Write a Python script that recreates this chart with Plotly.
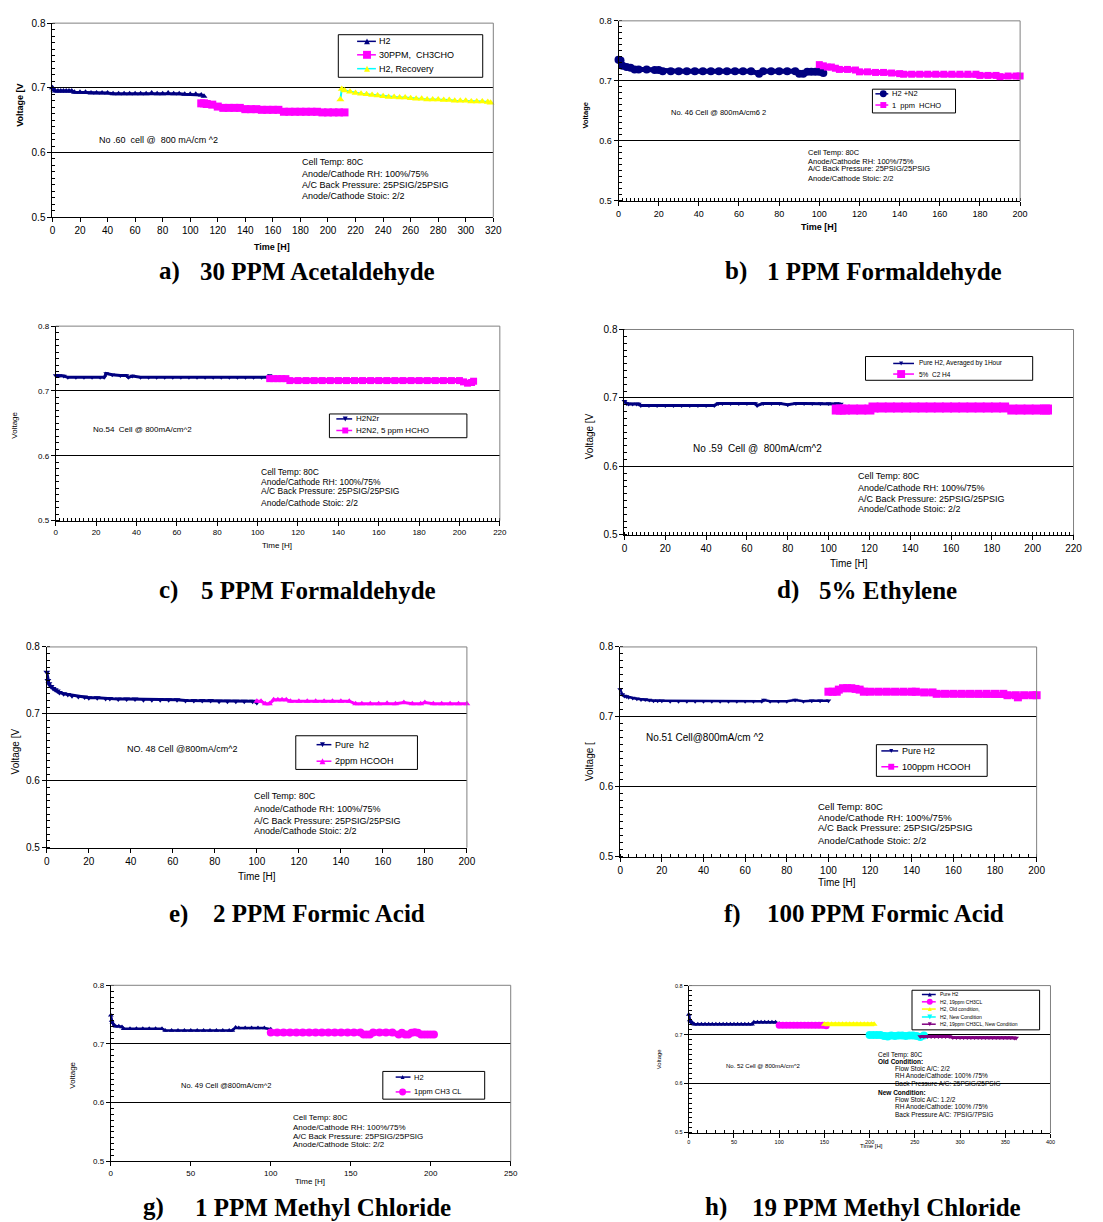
import plotly.graph_objects as go

W, H = 1103, 1222
SANS = "Liberation Sans, Arial, sans-serif"
SERIF = "Liberation Serif, Times New Roman, serif"
NAVY, MAG, YEL, CYN, PUR = "#000080", "#FF00FF", "#FFFF00", "#00FFFF", "#800080"

# ---------------- data (time [h], voltage [V]) ----------------
# a) 30 PPM Acetaldehyde
a_h2_t = [0, 1, 2, 4, 6, 8, 10, 12, 14, 16, 20, 24, 28, 32, 36, 40, 44, 48, 52, 56, 60, 64, 68, 72, 76, 80, 84, 88, 92, 96, 100, 104, 108, 110]
a_h2_v = [0.700, 0.697, 0.695, 0.695, 0.695, 0.695, 0.695, 0.695, 0.695, 0.693, 0.693, 0.693, 0.692, 0.692, 0.692, 0.692, 0.691, 0.691, 0.691, 0.691, 0.691, 0.691, 0.691, 0.692, 0.691, 0.691, 0.692, 0.691, 0.691, 0.690, 0.690, 0.690, 0.689, 0.687]
a_ald_t = [108, 110, 112, 116, 120, 124, 128, 132, 136, 140, 144, 148, 152, 156, 160, 164, 168, 172, 176, 180, 184, 188, 192, 196, 200, 204, 208, 212]
a_ald_v = [0.676, 0.676, 0.675, 0.674, 0.671, 0.669, 0.669, 0.669, 0.669, 0.667, 0.667, 0.667, 0.666, 0.666, 0.666, 0.666, 0.663, 0.663, 0.663, 0.663, 0.663, 0.663, 0.663, 0.662, 0.662, 0.662, 0.662, 0.662]
a_rec_t = [209, 210, 212, 216, 220, 224, 228, 232, 236, 240, 244, 248, 252, 256, 260, 264, 268, 272, 276, 280, 284, 288, 292, 296, 300, 304, 308, 312, 316, 318]
a_rec_v = [0.682, 0.698, 0.696, 0.694, 0.692, 0.691, 0.690, 0.689, 0.688, 0.687, 0.686, 0.686, 0.685, 0.685, 0.684, 0.683, 0.683, 0.682, 0.682, 0.682, 0.681, 0.681, 0.680, 0.680, 0.680, 0.679, 0.679, 0.679, 0.678, 0.677]

# b) 1 PPM Formaldehyde
b_h2_t = [0, 1, 2, 4, 6, 8, 10, 14, 18, 20, 22, 26, 30, 34, 38, 42, 46, 50, 54, 58, 62, 66, 70, 72, 76, 80, 84, 88, 90, 92, 94, 96, 98, 100, 102]
b_h2_v = [0.735, 0.734, 0.725, 0.723, 0.722, 0.719, 0.719, 0.719, 0.718, 0.718, 0.716, 0.716, 0.716, 0.716, 0.716, 0.716, 0.716, 0.716, 0.716, 0.716, 0.716, 0.716, 0.712, 0.716, 0.716, 0.716, 0.716, 0.716, 0.712, 0.712, 0.715, 0.715, 0.715, 0.715, 0.713]
b_hcho_t = [100, 102, 104, 106, 108, 110, 114, 118, 120, 124, 128, 132, 136, 140, 142, 146, 150, 154, 158, 162, 166, 170, 174, 178, 180, 184, 188, 190, 194, 198, 200]
b_hcho_v = [0.727, 0.725, 0.723, 0.723, 0.721, 0.719, 0.719, 0.718, 0.715, 0.715, 0.714, 0.714, 0.713, 0.712, 0.711, 0.711, 0.711, 0.711, 0.711, 0.711, 0.711, 0.711, 0.711, 0.711, 0.709, 0.709, 0.709, 0.707, 0.708, 0.708, 0.708]

# c) 5 PPM Formaldehyde
c_h2_t = [0, 2, 4, 6, 10, 14, 18, 22, 24, 25, 28, 32, 35, 36, 38, 42, 46, 50, 54, 58, 62, 66, 70, 74, 78, 82, 86, 90, 94, 98, 102, 105, 106]
c_h2_v = [0.724, 0.724, 0.723, 0.721, 0.721, 0.721, 0.721, 0.721, 0.721, 0.727, 0.725, 0.724, 0.724, 0.721, 0.723, 0.721, 0.721, 0.721, 0.721, 0.721, 0.721, 0.721, 0.721, 0.721, 0.721, 0.721, 0.721, 0.721, 0.721, 0.721, 0.721, 0.721, 0.724]
c_hcho_t = [106, 108, 110, 112, 114, 116, 120, 124, 128, 132, 136, 140, 144, 148, 152, 156, 160, 164, 168, 172, 176, 180, 184, 188, 192, 196, 200, 202, 204, 206, 207]
c_hcho_v = [0.719, 0.719, 0.719, 0.719, 0.719, 0.716, 0.716, 0.716, 0.716, 0.716, 0.716, 0.716, 0.716, 0.716, 0.716, 0.716, 0.716, 0.716, 0.716, 0.716, 0.716, 0.716, 0.716, 0.716, 0.716, 0.716, 0.716, 0.714, 0.712, 0.713, 0.715]

# d) 5% Ethylene
d_h2_t = [0, 1, 2, 4, 6, 7, 8, 12, 16, 20, 24, 28, 32, 36, 40, 44, 46, 48, 52, 56, 60, 64, 65, 68, 72, 76, 80, 84, 88, 92, 96, 100, 104, 106]
d_h2_v = [0.695, 0.692, 0.691, 0.691, 0.691, 0.691, 0.689, 0.689, 0.689, 0.689, 0.689, 0.689, 0.689, 0.689, 0.689, 0.689, 0.692, 0.692, 0.692, 0.692, 0.692, 0.692, 0.689, 0.692, 0.692, 0.692, 0.690, 0.692, 0.692, 0.692, 0.692, 0.692, 0.692, 0.691]
d_c2h4_t = [104, 106, 108, 112, 116, 120, 122, 126, 130, 134, 138, 142, 146, 150, 154, 158, 162, 166, 170, 174, 178, 182, 186, 190, 194, 198, 202, 206, 207]
d_c2h4_v = [0.683, 0.683, 0.683, 0.683, 0.683, 0.683, 0.686, 0.686, 0.686, 0.686, 0.686, 0.686, 0.686, 0.686, 0.686, 0.686, 0.686, 0.686, 0.686, 0.686, 0.686, 0.686, 0.686, 0.683, 0.683, 0.683, 0.683, 0.683, 0.683]

# e) 2 PPM Formic Acid
e_h2_t = [0, 0.5, 1, 2, 3, 4, 5, 6, 8, 10, 12, 15, 18, 20, 24, 28, 30, 34, 38, 42, 46, 50, 54, 58, 62, 66, 70, 74, 78, 82, 86, 90, 94, 98, 100]
e_h2_v = [0.762, 0.750, 0.745, 0.741, 0.738, 0.736, 0.734, 0.732, 0.730, 0.729, 0.727, 0.726, 0.725, 0.724, 0.724, 0.723, 0.723, 0.722, 0.722, 0.722, 0.721, 0.721, 0.721, 0.721, 0.721, 0.720, 0.720, 0.720, 0.720, 0.719, 0.719, 0.719, 0.719, 0.719, 0.717]
e_fa_t = [100, 102, 104, 106, 108, 110, 112, 114, 116, 120, 124, 128, 132, 136, 140, 144, 147, 150, 154, 158, 162, 166, 170, 174, 178, 180, 184, 188, 192, 196, 200]
e_fa_v = [0.719, 0.719, 0.715, 0.715, 0.721, 0.721, 0.721, 0.721, 0.719, 0.719, 0.719, 0.719, 0.719, 0.719, 0.719, 0.719, 0.715, 0.715, 0.715, 0.715, 0.716, 0.715, 0.717, 0.715, 0.715, 0.717, 0.715, 0.715, 0.715, 0.715, 0.715]

# f) 100 PPM Formic Acid
f_h2_t = [0, 1, 2, 3, 4, 6, 8, 10, 12, 14, 16, 18, 20, 24, 28, 32, 36, 40, 44, 48, 52, 56, 60, 64, 68, 69, 72, 76, 80, 84, 88, 92, 96, 100]
f_h2_v = [0.739, 0.732, 0.730, 0.729, 0.728, 0.727, 0.726, 0.725, 0.725, 0.724, 0.723, 0.723, 0.723, 0.7225, 0.7225, 0.7225, 0.7225, 0.7225, 0.7225, 0.7225, 0.7225, 0.7225, 0.7225, 0.7225, 0.7225, 0.724, 0.7225, 0.7225, 0.7225, 0.724, 0.7225, 0.723, 0.723, 0.723]
f_fa_t = [100, 102, 104, 105, 107, 109, 111, 113, 115, 117, 120, 124, 128, 132, 136, 140, 142, 146, 150, 152, 156, 160, 164, 168, 172, 176, 180, 184, 186, 190, 191, 194, 198, 200]
f_fa_v = [0.736, 0.736, 0.736, 0.739, 0.741, 0.741, 0.741, 0.740, 0.739, 0.736, 0.736, 0.736, 0.736, 0.736, 0.736, 0.736, 0.736, 0.735, 0.735, 0.733, 0.733, 0.733, 0.733, 0.733, 0.733, 0.733, 0.733, 0.733, 0.731, 0.731, 0.728, 0.731, 0.731, 0.731]

# g) 1 PPM Methyl Chloride
g_h2_t = [0, 0.5, 1, 2, 3, 5, 7, 8, 12, 16, 20, 24, 28, 32, 34, 38, 42, 46, 50, 54, 58, 62, 66, 70, 74, 76, 78, 80, 84, 88, 92, 96, 100]
g_h2_v = [0.749, 0.740, 0.736, 0.731, 0.730, 0.730, 0.729, 0.726, 0.726, 0.726, 0.726, 0.726, 0.726, 0.726, 0.723, 0.723, 0.723, 0.723, 0.723, 0.723, 0.723, 0.723, 0.723, 0.723, 0.723, 0.723, 0.728, 0.727, 0.727, 0.727, 0.727, 0.727, 0.725]
g_mc_t = [100, 104, 108, 112, 116, 120, 124, 128, 132, 136, 140, 144, 148, 152, 156, 158, 160, 162, 164, 168, 172, 176, 180, 182, 184, 186, 188, 190, 192, 194, 196, 198, 200, 202]
g_mc_v = [0.7195, 0.7195, 0.7195, 0.7195, 0.7195, 0.7195, 0.7195, 0.7195, 0.7195, 0.7195, 0.7195, 0.7195, 0.7195, 0.7195, 0.7195, 0.716, 0.716, 0.716, 0.7195, 0.7195, 0.7195, 0.7195, 0.716, 0.719, 0.716, 0.716, 0.719, 0.720, 0.719, 0.716, 0.716, 0.716, 0.716, 0.716]

# h) 19 PPM Methyl Chloride
h_h2_t = [0, 1, 2, 4, 6, 10, 14, 18, 22, 26, 30, 34, 38, 42, 46, 50, 54, 58, 62, 66, 70, 72, 76, 80, 84, 88, 92, 96, 100]
h_h2_v = [0.741, 0.730, 0.726, 0.724, 0.721, 0.721, 0.721, 0.721, 0.721, 0.721, 0.721, 0.721, 0.721, 0.721, 0.721, 0.721, 0.721, 0.721, 0.721, 0.721, 0.721, 0.725, 0.725, 0.725, 0.725, 0.725, 0.725, 0.725, 0.722]
h_mc_t = [100, 104, 108, 112, 116, 120, 124, 128, 132, 136, 140, 144, 148, 152]
h_mc_v = [0.719, 0.719, 0.719, 0.719, 0.719, 0.719, 0.719, 0.719, 0.719, 0.719, 0.719, 0.719, 0.719, 0.718]
h_old_t = [150, 154, 158, 162, 166, 170, 174, 178, 182, 186, 190, 194, 198, 202, 205]
h_old_v = [0.721, 0.721, 0.721, 0.721, 0.721, 0.721, 0.721, 0.721, 0.721, 0.721, 0.721, 0.721, 0.721, 0.721, 0.721]
h_new_t = [200, 204, 208, 212, 216, 220, 224, 228, 232, 236, 240, 244, 248, 252, 256, 260]
h_new_v = [0.699, 0.699, 0.699, 0.699, 0.697, 0.696, 0.698, 0.697, 0.698, 0.698, 0.697, 0.698, 0.698, 0.697, 0.695, 0.698]
h_mcn_t = [256, 260, 264, 268, 272, 276, 280, 284, 288, 292, 296, 300, 304, 308, 312, 316, 320, 324, 328, 332, 336, 340, 344, 348, 352, 356, 360, 362]
h_mcn_v = [0.696, 0.696, 0.696, 0.696, 0.696, 0.696, 0.696, 0.696, 0.696, 0.694, 0.694, 0.694, 0.694, 0.694, 0.694, 0.694, 0.694, 0.694, 0.694, 0.694, 0.694, 0.694, 0.694, 0.694, 0.694, 0.694, 0.693, 0.693]

y_ticks = [0.5, 0.6, 0.7, 0.8]

# ---------------- helpers ----------------
def X(p):
    return p / W


def Y(p):
    return 1 - p / H


fig = go.Figure()
shapes = []
annotations = []


def ann(x, y, text, size, xanchor="left", bold=False, angle=0, family=SANS):
    annotations.append(dict(
        x=X(x), y=Y(y), xref="paper", yref="paper",
        text=f"<b>{text}</b>" if bold else text, showarrow=False,
        xanchor=xanchor, yanchor="middle", textangle=angle,
        font=dict(family=family, size=size, color="black")))


def key_marker(sym, cx, cy, s, color):
    h = s / 2
    if sym == "square":
        shapes.append(dict(type="rect", xref="paper", yref="paper", x0=X(cx - h), x1=X(cx + h),
                           y0=Y(cy + h), y1=Y(cy - h), fillcolor=color, line=dict(width=0)))
    elif sym == "circle":
        shapes.append(dict(type="circle", xref="paper", yref="paper", x0=X(cx - h), x1=X(cx + h),
                           y0=Y(cy + h), y1=Y(cy - h), fillcolor=color, line=dict(width=0)))
    else:
        if sym == "triangle-up":
            pts = [(cx, cy - h), (cx + h, cy + h), (cx - h, cy + h)]
        else:
            pts = [(cx, cy + h), (cx + h, cy - h), (cx - h, cy - h)]
        path = "M " + " L ".join(f"{X(a):.5f},{Y(b):.5f}" for a, b in pts) + " Z"
        shapes.append(dict(type="path", xref="paper", yref="paper", path=path,
                           fillcolor=color, line=dict(width=0)))


def legend_box(box, ys, line_x, mx, tx, items, fs):
    x0, y0, x1, y1 = box
    shapes.append(dict(type="rect", xref="paper", yref="paper", x0=X(x0), x1=X(x1), y0=Y(y1), y1=Y(y0),
                       fillcolor="white", line=dict(color="black", width=1)))
    for yy, (label, lc, mc, sym, ms) in zip(ys, items):
        shapes.append(dict(type="line", xref="paper", yref="paper", x0=X(line_x[0]), x1=X(line_x[1]),
                           y0=Y(yy), y1=Y(yy), line=dict(color=lc, width=1.5)))
        key_marker(sym, mx, yy, ms, mc)
        ann(tx, yy, label, fs)


# ---------------- panels ----------------
panels = [
    dict(box=(50, 17.3, 495.7, 213.3), xmax=320, xd=20, xminor=None, tf=10,
         series=[(a_h2_t, a_h2_v, NAVY, NAVY, "triangle-up", 6, 3),
                 (a_ald_t, a_ald_v, MAG, MAG, "square", 8, 6),
                 (a_rec_t, a_rec_v, CYN, YEL, "triangle-up", 7, 2)]),
    dict(box=(622.3, 15, 1028.3, 196.7), xmax=200, xd=20, xminor=2, tf=9,
         series=[(b_h2_t, b_h2_v, NAVY, NAVY, "circle", 8, 5),
                 (b_hcho_t, b_hcho_v, MAG, MAG, "square", 7, 5)]),
    dict(box=(53.3, 323.3, 502.3, 519.7), xmax=220, xd=20, xminor=2, tf=8,
         series=[(c_h2_t, c_h2_v, NAVY, NAVY, "triangle-down", 5, 3),
                 (c_hcho_t, c_hcho_v, MAG, MAG, "square", 7, 5)]),
    dict(box=(628.3, 326.7, 1082.3, 534), xmax=220, xd=20, xminor=2, tf=10,
         series=[(d_h2_t, d_h2_v, NAVY, NAVY, "triangle-down", 5, 3),
                 (d_c2h4_t, d_c2h4_v, MAG, MAG, "square", 10, 7)]),
    dict(box=(44.3, 647.3, 469, 850), xmax=200, xd=20, xminor=None, tf=10,
         series=[(e_h2_t, e_h2_v, NAVY, NAVY, "triangle-down", 6, 3),
                 (e_fa_t, e_fa_v, MAG, MAG, "triangle-up", 6, 3)]),
    dict(box=(624, 647.3, 1045, 859.3), xmax=200, xd=20, xminor=4, tf=10,
         series=[(f_h2_t, f_h2_v, NAVY, NAVY, "triangle-down", 5, 2.5),
                 (f_fa_t, f_fa_v, MAG, MAG, "square", 8, 6)]),
    dict(box=(109, 989, 513.3, 1166.7), xmax=250, xd=50, xminor=None, tf=8,
         series=[(g_h2_t, g_h2_v, NAVY, NAVY, "triangle-up", 5, 2.5),
                 (g_mc_t, g_mc_v, MAG, MAG, "circle", 8, 6)]),
    dict(box=(693.3, 989.3, 1059, 1137.7), xmax=400, xd=50, xminor=10, tf=5.5,
         series=[(h_h2_t, h_h2_v, NAVY, NAVY, "triangle-up", 5, 2.5),
                 (h_mc_t, h_mc_v, MAG, MAG, "circle", 7, 5),
                 (h_old_t, h_old_v, YEL, YEL, "triangle-up", 6, 4),
                 (h_new_t, h_new_v, CYN, CYN, "circle", 8, 6),
                 (h_mcn_t, h_mcn_v, PUR, PUR, "triangle-down", 5, 3)]),
]

layout_axes = {}
for i, p in enumerate(panels, 1):
    x0, y0, x1, y1 = p["box"]
    xa = "xaxis" if i == 1 else f"xaxis{i}"
    ya = "yaxis" if i == 1 else f"yaxis{i}"
    xr = "x" if i == 1 else f"x{i}"
    yr = "y" if i == 1 else f"y{i}"
    tick_font = dict(family=SANS, size=p["tf"], color="black")
    xdict = dict(domain=[X(x0), X(x1)], range=[0, p["xmax"]], dtick=p["xd"], tick0=0, anchor=yr,
                 showline=True, linecolor="black", linewidth=1, ticks="outside", ticklen=4,
                 tickcolor="black", showgrid=False, zeroline=False, tickfont=tick_font, fixedrange=True)
    if p["xminor"]:
        xdict["minor"] = dict(dtick=p["xminor"], ticks="inside", ticklen=3, tickcolor="black", showgrid=False)
    ydict = dict(domain=[Y(y1), Y(y0)], range=[0.5, 0.8], tickvals=y_ticks, anchor=xr,
                 showline=True, linecolor="black", linewidth=1, ticks="outside", ticklen=4,
                 tickcolor="black", showgrid=True, gridcolor="black", gridwidth=1, zeroline=False,
                 tickfont=tick_font, tickformat=".1f", fixedrange=True,
                 minor=dict(dtick=0.01, tick0=0.5, ticks="inside", ticklen=3, tickcolor="black", showgrid=False))
    layout_axes[xa] = xdict
    layout_axes[ya] = ydict
    for (t, v, lc, mc, sym, ms, lw) in p["series"]:
        fig.add_trace(go.Scatter(x=t, y=v, mode="lines+markers", xaxis=xr, yaxis=yr,
                                 line=dict(color=lc, width=lw),
                                 marker=dict(symbol=sym, size=ms, color=mc, line=dict(width=0)),
                                 showlegend=False, cliponaxis=False, hoverinfo="skip"))
    # grey top / right frame
    shapes.append(dict(type="line", xref=f"{xr} domain", yref=f"{yr} domain", x0=0, x1=1, y0=1, y1=1,
                       line=dict(color="#808080", width=1), layer="above"))
    shapes.append(dict(type="line", xref=f"{xr} domain", yref=f"{yr} domain", x0=1, x1=1, y0=0, y1=1,
                       line=dict(color="#808080", width=1), layer="above"))

# ---------------- legends ----------------
legend_box((339, 29, 485, 72), [35.7, 49.3, 63.3], (358, 377), 368, 378,
           [("H2", NAVY, NAVY, "triangle-up", 6),
            ("30PPM,  CH3CHO", MAG, MAG, "square", 8),
            ("H2, Recovery", CYN, YEL, "triangle-up", 6)], 9)
legend_box((879, 84, 963, 108), [88.7, 100], (882, 895), 890, 897,
           [("H2 +N2", NAVY, NAVY, "circle", 7),
            ("1  ppm  HCHO", MAG, MAG, "square", 6)], 7.5)
legend_box((330, 412, 469, 436), [417, 428.7], (337, 353), 346, 355,
           [("H2N2r", NAVY, NAVY, "triangle-down", 5),
            ("H2N2, 5 ppm HCHO", MAG, MAG, "square", 6)], 8)
legend_box((872, 354, 1041, 378), [361, 371.7], (900, 921), 908, 924,
           [("Pure H2, Averaged by 1Hour", NAVY, NAVY, "triangle-down", 4),
            ("5%  C2 H4", MAG, MAG, "square", 8)], 6.5)
legend_box((296, 737, 419, 771), [746, 762.7], (317, 332), 323, 334,
           [("Pure  h2", NAVY, NAVY, "triangle-down", 5),
            ("2ppm HCOOH", MAG, MAG, "triangle-up", 6)], 9)
legend_box((883, 746, 995, 778), [752.3, 768.3], (888, 905), 898, 907,
           [("Pure H2", NAVY, NAVY, "triangle-down", 4),
            ("100ppm HCOOH", MAG, MAG, "square", 6)], 9)
legend_box((384, 1076, 487, 1104), [1081.7, 1096.7], (397, 412), 404, 414,
           [("H2", NAVY, NAVY, "triangle-up", 4),
            ("1ppm CH3 CL", MAG, MAG, "circle", 7)], 7.5)
legend_box((919, 994, 1048, 1034), [998.3, 1005.7, 1013, 1021, 1028.3], (929, 943), 937, 945,
           [("Pure H2", NAVY, NAVY, "triangle-up", 4),
            ("H2, 19ppm CH3CL", MAG, MAG, "circle", 6),
            ("H2, Old condition,", YEL, YEL, "triangle-up", 4),
            ("H2, New Condition", CYN, CYN, "triangle-down", 5),
            ("H2, 19ppm CH3CL, New Condition", PUR, PUR, "triangle-down", 4)], 5)

# ---------------- panel texts ----------------
cond = ["Cell Temp: 80C", "Anode/Cathode RH: 100%/75%", "A/C Back Pressure: 25PSIG/25PSIG", "Anode/Cathode Stoic: 2/2"]

# a
ann(95, 135, "No .60  cell @  800 mA/cm ^2", 9)
for yy, s in zip([158, 169.5, 181, 192.3], cond):
    ann(300, yy, s, 9)
ann(17, 100, "Voltage [V", 9, "center", bold=True, angle=-90)
ann(272, 243, "Time [H]", 9, "center", bold=True)
# b
ann(673, 108, "No. 46 Cell @ 800mA/cm6 2", 7.5)
for yy, s in zip([148.3, 156.7, 164.3, 174], cond):
    ann(812, yy, s, 7.5)
ann(589, 110, "Voltage", 7.5, "center", bold=True, angle=-90)
ann(825, 223, "Time [H]", 9, "center", bold=True)
# c
ann(89, 428, "No.54  Cell @ 800mA/cm^2", 8)
for yy, s in zip([471, 480.7, 490.3, 502.3], cond):
    ann(259, yy, s, 8.5)
ann(12, 423, "Voltage", 8, "center", angle=-90)
ann(277, 545, "Time [H]", 8, "center")
# d
ann(696, 446.7, "No .59  Cell @  800mA/cm^2", 10)
for yy, s in zip([475, 486.7, 498.3, 508.3], cond):
    ann(862.7, yy, s, 9)
ann(593, 435, "Voltage [V", 10, "center", angle=-90)
ann(855, 563, "Time [H]", 10, "center")
# e
ann(123, 750, "NO. 48 Cell @800mA/cm^2", 9)
for yy, s in zip([798.3, 810.7, 822.7, 832.7], cond):
    ann(252, yy, s, 9)
ann(13, 753, "Voltage [V", 10, "center", angle=-90)
ann(257, 879, "Time [H]", 10, "center")
# f
ann(648, 739, "No.51 Cell@800mA/cm ^2", 10)
for yy, s in zip([808.3, 820, 830, 842.3], cond):
    ann(822, yy, s, 9.5)
ann(593, 763, "Voltage [", 10, "center", angle=-90)
ann(843, 885, "Time [H]", 10, "center")
# g
ann(178, 1090, "No. 49 Cell @800mA/cm^2", 7.5)
for yy, s in zip([1122.7, 1132.3, 1141.7, 1149.3], cond):
    ann(290.7, yy, s, 8)
ann(70, 1080, "Voltage", 8, "center", angle=-90)
ann(310, 1187, "Time [H]", 8, "center")
# h
ann(729, 1071, "No. 52 Cell @ 800mA/cm^2", 6)
h_lines = [(882.3, 1059, "Cell Temp: 80C", False), (882.3, 1065.7, "Old Condition:", True),
           (899.3, 1072.7, "Flow Stoic A/C: 2/2", False), (899.3, 1080, "RH Anode/Cathode: 100% /75%", False),
           (899.3, 1088, "Back Pressure A/C: 25PSIG/25PSIG", False), (882.3, 1097, "New Condition:", True),
           (899.3, 1104.3, "Flow Stoic A/C: 1.2/2", False), (899.3, 1111.7, "RH Anode/Cathode: 100% /75%", False),
           (899.3, 1119, "Back Pressure A/C: 7PSIG/7PSIG", False)]
for xx, yy, s, b in h_lines:
    ann(xx, yy, s, 6.5, bold=b)
ann(663, 1063, "Voltage", 6, "center", angle=-90)
ann(878, 1151, "Time [H]", 6, "center")

# ---------------- captions ----------------
captions = [(156, 197, 268, "a)", "30 PPM Acetaldehyde"),
            (728, 770, 268, "b)", "1 PPM Formaldehyde"),
            (156, 198, 590, "c)", "5 PPM Formaldehyde"),
            (780, 823, 590, "d)", "5% Ethylene"),
            (166, 210, 917, "e)", "2 PPM Formic Acid"),
            (727, 770, 917, "f)", "100 PPM Formic Acid"),
            (140, 192, 1213, "g)", "1 PPM Methyl Chloride"),
            (708, 755, 1213, "h)", "19 PPM Methyl Chloride")]
for lx, tx, yy, lab, title in captions:
    ann(lx, yy, lab, 25, bold=True, family=SERIF)
    ann(tx, yy, title, 25, bold=True, family=SERIF)

fig.update_layout(width=W, height=H, margin=dict(l=0, r=0, t=0, b=0),
                  paper_bgcolor="white", plot_bgcolor="white", showlegend=False,
                  shapes=shapes, annotations=annotations, hovermode=False, **layout_axes)

fig.write_html("out.html", config={"displayModeBar": False},
               post_script="document.body.style.margin='0px';")
